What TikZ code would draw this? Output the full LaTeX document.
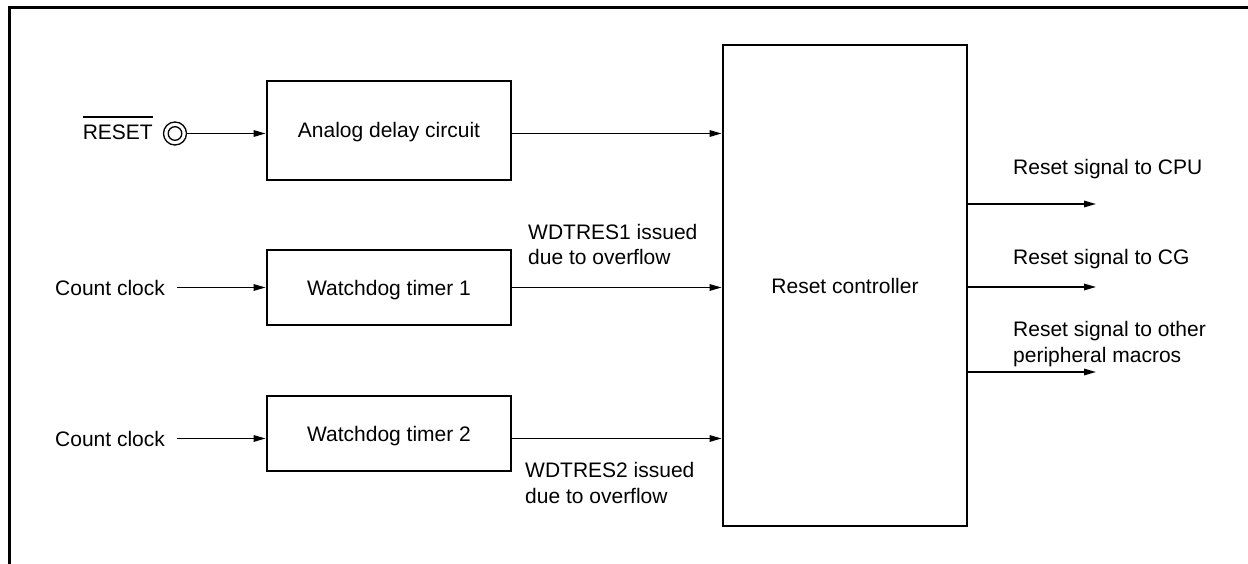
\documentclass[tikz,border=0pt]{standalone}
\usepackage{fontspec}
\setmainfont{Liberation Sans}
\usetikzlibrary{arrows.meta}
\begin{document}
\begin{tikzpicture}[x=1pt,y=-1pt,
  every node/.style={font=\fontsize{21}{25.5}\selectfont, inner sep=0pt},
  blk/.style={draw, line width=2.8pt, minimum width=244pt, inner sep=0pt, text height=15pt, text depth=0pt},
  sig/.style={line width=1.5pt, -{Triangle[length=12pt,width=6.5pt]}},
  lbl/.style={anchor=base west, align=left}]
\useasboundingbox (0,0) rectangle (1248,564);
\draw[line width=3pt] (9,570) -- (9,8) -- (1254,8);
% blocks
\node[blk, minimum height=99pt] (adc) at (389,130.5) {Analog delay circuit};
\node[blk, minimum height=75pt] (wdt1) at (389,287.5) {Watchdog timer 1};
\node[blk, minimum height=75pt] (wdt2) at (389,433.5) {Watchdog timer 2};
\node[blk, minimum height=481pt] (rc) at (845,285.5) {Reset controller};
% reset pin
\node[draw, circle, line width=1.3pt, minimum size=23pt] (pin) at (175,133.5) {};
\draw[line width=1.3pt] (pin.center) circle[radius=6.8pt];
\node[anchor=base east] (rsttxt) at (153,140) {RESET};
\draw[line width=1.3pt] ([yshift=8pt]rsttxt.north west) -- ([yshift=8pt]rsttxt.north east);
% inputs
\node[anchor=base west] (cc1) at (55,295) {Count clock};
\node[anchor=base west] (cc2) at (55,446) {Count clock};
\draw[sig] (pin.east) -- (adc.west |- pin.east);
\draw[sig] ([xshift=12pt]cc1.east) -- (wdt1.west |- cc1.east);
\draw[sig] ([xshift=12pt]cc2.east) -- (wdt2.west |- cc2.east);
% block to controller
\draw[sig] (adc.east |- pin.east) -- (rc.west |- pin.east);
\draw[sig] (wdt1.east |- cc1.east) -- (rc.west |- cc1.east);
\draw[sig] (wdt2.east |- cc2.east) -- (rc.west |- cc2.east);
\node[lbl] (l1) at (528,265) {WDTRES1 issued\\due to overflow};
\node[lbl] (l2) at (525,503) {WDTRES2 issued\\due to overflow};
% outputs
\coordinate (o1) at (1096,204);
\coordinate (o2) at (1096,287);
\coordinate (o3) at (1096,372);
\draw[sig] (rc.east |- o1) -- (o1);
\draw[sig] (rc.east |- o2) -- (o2);
\draw[sig] (rc.east |- o3) -- (o3);
\node[lbl] (t1) at (1013,175) {Reset signal to CPU};
\node[lbl] (t2) at (1013,265) {Reset signal to CG};
\node[lbl] (t3) at (1013,362) {Reset signal to other\\peripheral macros};
\end{tikzpicture}
\end{document}
